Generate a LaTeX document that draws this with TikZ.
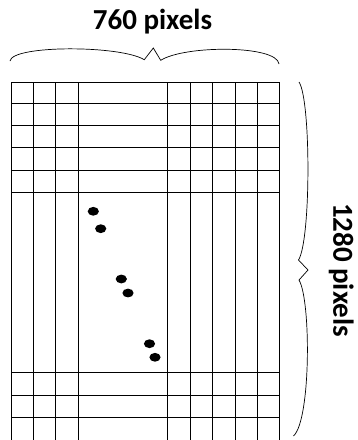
\documentclass[tikz,border=0pt]{standalone}
\usepackage{fontspec}
\setmainfont{Carlito}
\tikzset{dimlabel/.style={font=\bfseries\fontsize{29}{29}\selectfont,anchor=base}}
\begin{document}
\begin{tikzpicture}[x=1pt,y=-1pt,line width=0.9pt]
  \useasboundingbox (0,0) rectangle (358,440);
  % grid lines
  \foreach \x in {11,33.4,55.8,78.2,167.8,190.2,212.6,235,257.4,279.8}
  \draw (\x,82.3) -- (\x,440);
  \foreach \y in {82.3,103,125.3,147.7,170,192.3,372.7,395,417.3}
  \draw (11,\y) -- (279.8,\y);

  % dots
  \foreach \x/\y in {93.3/211.3,100.7/228.7,121.3/279,128/293,149.5/343.7,155/357.3}
  \fill (\x,\y) ellipse [x radius=5.6, y radius=4.4];

  % braces
  \draw[line width=0.7pt] (10,61) .. controls (12,45) and (120,45) .. (144.3,59.7)
    -- (153.3,48) -- (160.7,60.3) .. controls (185,45) and (277,45) .. (279,64);
  \draw[line width=0.7pt] (299,82) .. controls (311,100) and (311,240) .. (298.5,260)
    -- (308,270) -- (299,280) .. controls (311,300) and (311,420) .. (293.5,436);

  \node[dimlabel] (width) at (152.5,29) {760 pixels};
  \node[dimlabel,rotate=-90] (height) at (333.3,270) {1280 pixels};
\end{tikzpicture}
\end{document}
